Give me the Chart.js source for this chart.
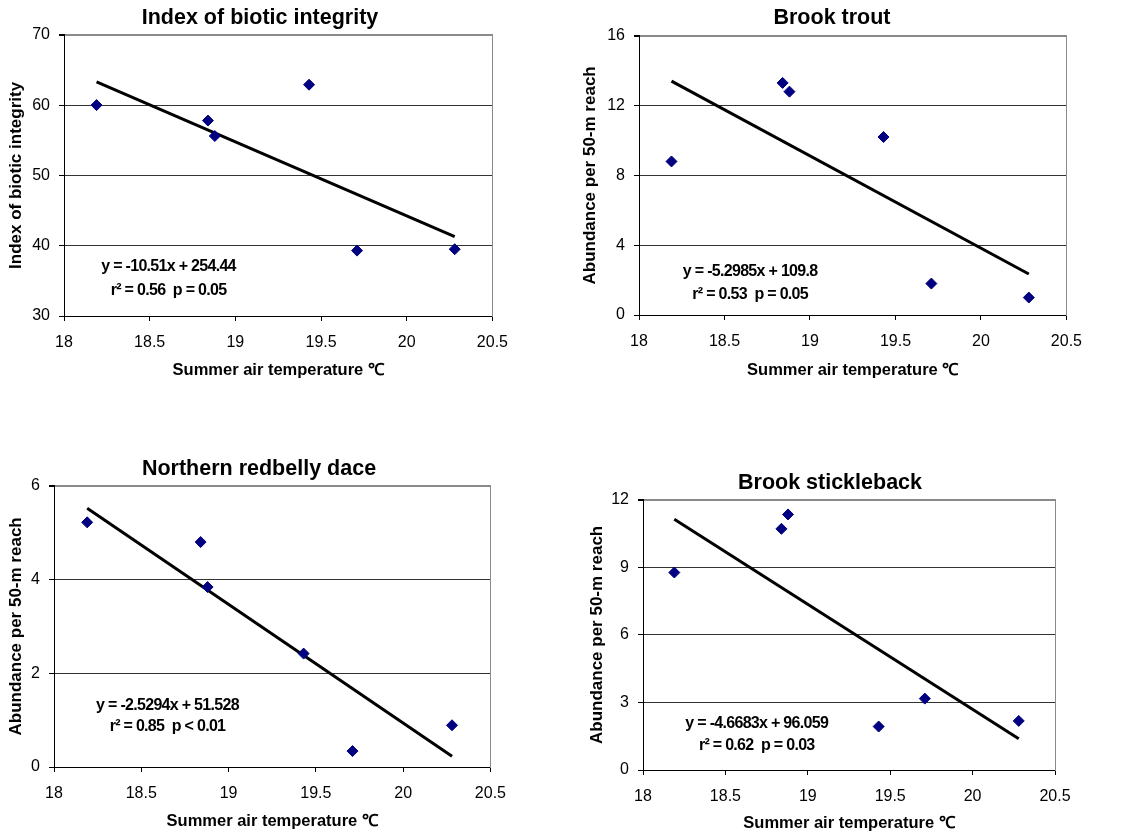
<!DOCTYPE html>
<html>
<head>
<meta charset="utf-8">
<script src="https://cdn.jsdelivr.net/npm/chart.js@4.4.1/dist/chart.umd.min.js"></script>
<style>
  body { margin: 0; background: #fff; }
  canvas { position: absolute; }
</style>
</head>
<body>
<canvas id="ibi" width="520" height="400" style="left:0;top:0"></canvas>
<canvas id="trout" width="524" height="400" style="left:570px;top:0"></canvas>
<canvas id="dace" width="518" height="394" style="left:0;top:440px"></canvas>
<canvas id="stickle" width="520" height="394" style="left:570px;top:440px"></canvas>
<script>
// summer air temperature of the six sites (same for every panel)
const tempC = [18.19, 18.84, 18.88, 19.43, 19.71, 20.28];

// panel values
const ibiScore = [60.0, 57.8, 55.6, 62.9, 39.3, 39.5];
const brookTrout = [8.8, 13.3, 12.8, 10.2, 1.8, 1.0];
const redbellyDace = [5.22, 4.80, 3.84, 2.42, 0.34, 0.89];
const brookStickleback = [8.77, 10.71, 11.35, 1.93, 3.17, 2.18];

// fitted lines, ends
const trendX = [18.19, 20.28];
const ibiTrend = [63.3, 41.3];
const troutTrend = [13.4, 2.35];
const daceTrend = [5.52, 0.23];
const sticklebackTrend = [11.14, 1.39];

const FONT = "'Liberation Sans', Arial, sans-serif";
const xTitle = 'Summer air temperature \u2103';
const abundance = 'Abundance per 50-m reach';

// equation + r2 text
const eqPlugin = {
  id: 'eq',
  afterDatasetsDraw(chart, args, opts) {
    const ctx = chart.ctx;
    const px = chart.scales.x.getPixelForValue(opts.x);
    ctx.save();
    ctx.font = 'bold 16px ' + FONT;
    ctx.letterSpacing = '-0.7px';
    ctx.fillStyle = '#000';
    ctx.textAlign = 'center';
    ctx.textBaseline = 'middle';
    opts.lines.forEach((t, i) => {
      ctx.fillText(t, px, chart.scales.y.getPixelForValue(opts.y[i]));
    });
    ctx.restore();
  }
};

function pts(xs, ys) {
  return xs.map((x, i) => ({ x: x, y: ys[i] }));
}

function makeChart(id, p) {
  new Chart(document.getElementById(id), {
    type: 'scatter',
    data: {
      datasets: [
        {
          data: pts(tempC, p.values),
          pointStyle: 'rectRot',
          pointRadius: 5.5,
          backgroundColor: '#000080',
          borderColor: '#000080',
          borderWidth: 1
        },
        {
          type: 'line',
          data: pts(trendX, p.trend),
          borderColor: '#000',
          borderWidth: 3,
          pointRadius: 0,
          fill: false
        }
      ]
    },
    options: {
      responsive: false,
      animation: false,
      events: [],
      layout: { padding: 0 },
      plugins: {
        legend: { display: false },
        tooltip: { enabled: false },
        title: {
          display: true,
          text: p.title,
          color: '#000',
          font: { family: FONT, size: 21.5, weight: 'bold', lineHeight: 1.2 },
          padding: { top: p.titlePad[0], bottom: p.titlePad[1] }
        },
        eq: p.note
      },
      scales: {
        x: {
          type: 'linear',
          min: 18,
          max: 20.5,
          ticks: {
            stepSize: 0.5, color: '#000', padding: 12,
            font: { family: FONT, size: 16 },
            callback: v => String(Math.round(v * 10) / 10)
          },
          grid: { drawOnChartArea: false, tickLength: 5, tickColor: '#000' },
          border: { color: '#000', width: 1 },
          title: {
            display: true,
            text: xTitle,
            color: '#000',
            font: { family: FONT, size: 16.5, weight: 'bold', lineHeight: 1.2 },
            padding: { top: 0, bottom: p.xTitlePad }
          },
          afterFit(s) { s.height = p.xH; }
        },
        y: {
          min: p.yMin,
          max: p.yMax,
          ticks: { stepSize: p.yStep, color: '#000', padding: 9, font: { family: FONT, size: 16 } },
          grid: {
            color: c => c.tick && c.tick.value === p.yMax ? '#8a8a8a' : '#333',
            lineWidth: c => c.tick && c.tick.value === p.yMax ? 2 : 1,
            tickLength: 5,
            tickColor: '#000'
          },
          border: { color: '#000', width: 1 },
          title: {
            display: true,
            text: p.yTitle,
            color: '#000',
            font: { family: FONT, size: 17, weight: 'bold', lineHeight: 1.2 },
            padding: { top: p.yTitlePad, bottom: 0 }
          },
          afterFit(s) { s.width = p.yW; }
        },
        // empty right axis: holds the gap and draws the grey right frame
        edge: {
          type: 'linear',
          position: 'right',
          ticks: { display: false },
          grid: { display: false },
          border: { color: '#8a8a8a', width: 1 },
          afterFit(s) { s.width = p.rW; }
        }
      }
    },
    plugins: [eqPlugin]
  });
}

makeChart('ibi', {
  title: 'Index of biotic integrity',
  yTitle: 'Index of biotic integrity',
  values: ibiScore, trend: ibiTrend,
  yMin: 30, yMax: 70, yStep: 10,
  yW: 64, rW: 23, xH: 84, titlePad: [5, 4], xTitlePad: 20, yTitlePad: 6,
  note: { lines: ['y = -10.51x + 254.44', 'r\u00B2 = 0.56  p = 0.05'], x: 18.61, y: [36.97, 33.56] }
});

makeChart('trout', {
  title: 'Brook trout',
  yTitle: abundance,
  values: brookTrout, trend: troutTrend,
  yMin: 0, yMax: 16, yStep: 4,
  yW: 69, rW: 27, xH: 85, titlePad: [5, 5], xTitlePad: 20, yTitlePad: 10,
  note: { lines: ['y = -5.2985x + 109.8', 'r\u00B2 = 0.53  p = 0.05'], x: 18.65, y: [2.47, 1.15] }
});

makeChart('dace', {
  title: 'Northern redbelly dace',
  yTitle: abundance,
  values: redbellyDace, trend: daceTrend,
  yMin: 0, yMax: 6, yStep: 2,
  yW: 54, rW: 21, xH: 67, titlePad: [16, 4], xTitlePad: 3, yTitlePad: 6,
  note: { lines: ['y = -2.5294x + 51.528', 'r\u00B2 = 0.85  p < 0.01'], x: 18.65, y: [1.30, 0.854] }
});

makeChart('stickle', {
  title: 'Brook stickleback',
  yTitle: abundance,
  values: brookStickleback, trend: sticklebackTrend,
  yMin: 0, yMax: 12, yStep: 3,
  yW: 73, rW: 35, xH: 64, titlePad: [30, 4], xTitlePad: 1, yTitlePad: 17,
  note: { lines: ['y = -4.6683x + 96.059', 'r\u00B2 = 0.62  p = 0.03'], x: 18.69, y: [2.04, 1.07] }
});
</script>
</body>
</html>
